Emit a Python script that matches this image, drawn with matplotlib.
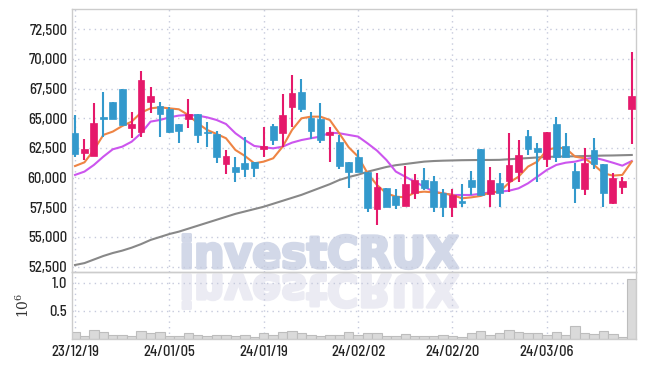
import numpy as np
import matplotlib
matplotlib.use("Agg")
import matplotlib.pyplot as plt
from matplotlib.textpath import TextPath
from matplotlib.patches import PathPatch
from matplotlib.font_manager import FontProperties
from matplotlib.transforms import Affine2D, IdentityTransform
from matplotlib.ticker import FuncFormatter

plt.rcParams['font.family'] = ['Barlow Semi Condensed', 'DejaVu Sans']
plt.rcParams['font.weight'] = 500
plt.rcParams['mathtext.fontset'] = 'dejavuserif'

# ---- data ----
dates = ['23/12/19', '24/01/05', '24/01/19', '24/02/02', '24/02/20', '24/03/06']
date_pos = [0, 10, 20, 30, 40, 50]

opens = [63740, 62110, 61850, 65060, 66380, 67440, 64210, 63880, 66400, 66040,
         65760, 64520, 64970, 65370, 63760, 63680, 61150, 60930, 61210, 61290,
         62440, 64350, 63790, 65980, 67220, 65000, 64940, 63620, 63010, 61290,
         61770, 60510, 57390, 59100, 58460, 57640, 58680, 59780, 59720, 58740,
         57560, 58030, 59780, 62420, 58600, 59550, 59750, 60510, 63510, 62470,
         61600, 64490, 62670, 60560, 59070, 62300, 61150, 57840, 59240, 65760]
highs = [65280, 63230, 66260, 67190, 66400, 67450, 65510, 68990, 67610, 66400,
         65980, 64520, 66600, 65370, 64720, 63960, 62330, 61770, 63460, 61300,
         64240, 64520, 67020, 68650, 68320, 65560, 66260, 64300, 63600, 61300,
         62330, 60510, 60370, 59100, 59020, 61010, 60280, 60790, 60140, 59020,
         59020, 59440, 60590, 62420, 60870, 60370, 63740, 63170, 64020, 62890,
         63850, 65080, 63740, 61210, 62470, 63320, 61150, 60370, 60080, 70620]
lows = [61770, 61490, 61800, 63460, 64950, 64400, 63320, 63460, 65420, 63460,
        63800, 62890, 64160, 62890, 62610, 61210, 60310, 59660, 60030, 60030,
        61770, 62750, 62610, 64300, 65560, 63230, 62950, 61290, 60730, 59100,
        60450, 57110, 55980, 57500, 57330, 57600, 58170, 59000, 57110, 56660,
        56660, 57500, 58540, 58500, 57500, 57560, 58820, 59660, 61910, 59660,
        60930, 61350, 61700, 57840, 58540, 60700, 57560, 57800, 58600, 62840]
closes = [61990, 62420, 64580, 64970, 64970, 64470, 64490, 68230, 66880, 65370,
          63880, 63960, 65370, 63620, 63720, 61770, 61850, 60510, 60700, 60790,
          62670, 63170, 65280, 67140, 65820, 63960, 63170, 63850, 61010, 60510,
          60510, 57470, 59190, 57560, 57670, 59470, 59780, 59100, 57500, 57560,
          58510, 57890, 59240, 58540, 59780, 58680, 61070, 61910, 62440, 62190,
          63820, 61710, 61770, 59160, 61210, 61150, 58740, 59940, 59720, 66850]

ma_short = [60980, 61290, 62330, 63600, 63880, 64350, 64720, 65480, 65840, 65930,
            65840, 65760, 65280, 64580, 64020, 63680, 63320, 62330, 61830, 61210,
            61350, 61630, 62610, 64020, 65000, 65140, 65140, 64860, 63740, 62560,
            61770, 60370, 59380, 58680, 58400, 58340, 58740, 58820, 58760, 58680,
            58540, 58260, 58340, 58460, 58760, 58820, 59580, 60080, 60930, 61350,
            62330, 62530, 62470, 61770, 61630, 61070, 60370, 60170, 60230, 61350]
ma_mid = [60230, 60510, 61070, 61770, 62390, 62610, 63030, 63740, 64720, 64860,
          65080, 65230, 65280, 65230, 65080, 64860, 64520, 63740, 63170, 62670,
          62560, 62470, 62610, 62950, 63170, 63320, 63460, 63790, 63740, 63600,
          63460, 62890, 62280, 61490, 60510, 60080, 59660, 59240, 58820, 58680,
          58540, 58540, 58540, 58650, 58760, 58820, 58900, 59100, 59520, 60080,
          60650, 61070, 61260, 61350, 61550, 61690, 61490, 61260, 61010, 61400]
ma_long = [52640, 52800, 53100, 53400, 53650, 53850, 54100, 54400, 54750, 55000,
           55250, 55450, 55700, 55950, 56200, 56450, 56700, 56950, 57150, 57350,
           57550, 57800, 58050, 58300, 58550, 58850, 59150, 59450, 59800, 60050,
           60250, 60500, 60700, 60900, 61050, 61150, 61250, 61350, 61400, 61430,
           61450, 61470, 61480, 61490, 61490, 61500, 61550, 61600, 61650, 61700,
           61750, 61770, 61790, 61800, 61820, 61840, 61860, 61870, 61890, 61910]

volume = [0.11, 0.04, 0.15, 0.12, 0.065, 0.06, 0.04, 0.13, 0.09, 0.12,
          0.04, 0.04, 0.09, 0.06, 0.04, 0.06, 0.06, 0.05, 0.06, 0.03,
          0.09, 0.065, 0.12, 0.13, 0.10, 0.065, 0.05, 0.065, 0.065, 0.12,
          0.065, 0.094, 0.094, 0.04, 0.04, 0.076, 0.04, 0.04, 0.053, 0.06,
          0.047, 0.035, 0.094, 0.13, 0.065, 0.094, 0.147, 0.118, 0.10, 0.10,
          0.07, 0.123, 0.065, 0.218, 0.10, 0.082, 0.13, 0.076, 0.03, 1.06]

UP = '#e5196b'
DOWN = '#3399cc'
GRID = '#c6cadc'
SPINE = '#cccccc'
TXT = '#222222'

W, H = 645, 366
fig = plt.figure(figsize=(W / 100, H / 100), dpi=100)
fig.patch.set_facecolor('white')

left, right = 72, 636
ax = fig.add_axes([left / W, (H - 272) / H, (right - left) / W, (272 - 9.3) / H])
axv = fig.add_axes([left / W, (H - 338.5) / H, (right - left) / W, (338.5 - 272) / H], sharex=ax)
for a in (ax, axv):
    a.set_facecolor('none')
    for s in a.spines.values():
        s.set_color(SPINE)
        s.set_linewidth(1)
    a.grid(True, color=GRID, linestyle=(0, (1, 3)), linewidth=1)
    a.tick_params(length=0, labelsize=10.5, colors=TXT)

# watermark + reflection (behind the axes), stroked to make it heavier
fp = FontProperties(family='DejaVu Sans', weight='bold')
tp = TextPath((0, 0), 'investCRUX', size=1, prop=fp)
bb = tp.get_extents()
sx = (458 - 183) / bb.width
sy = 33.5 / bb.y1
wm = Affine2D().translate(-bb.x0, 0).scale(sx, sy).translate(183, H - 268)
fig.add_artist(PathPatch(wm.transform_path(tp), transform=IdentityTransform(),
                         facecolor='#d2d8e8', edgecolor='#d2d8e8', lw=2.2,
                         joinstyle='round', zorder=-1))
rf = Affine2D().translate(-bb.x0, 0).scale(sx, -sy).translate(183, H - 275)
fig.add_artist(PathPatch(rf.transform_path(tp), transform=IdentityTransform(),
                         facecolor='#ebebf3', edgecolor='#ebebf3', lw=2.2,
                         joinstyle='round', zorder=-1))

x = np.arange(len(opens))
o = np.array(opens)
c = np.array(closes)
colors = [UP if cc >= oo else DOWN for oo, cc in zip(o, c)]
bottoms = np.minimum(o, c)
heights = np.maximum(np.abs(c - o), 120)

ax.plot(x, ma_long, color='#888888', lw=1.5, zorder=2)
ax.plot(x, ma_mid, color='#cc55ee', lw=1.5, zorder=2)
ax.plot(x, ma_short, color='#ee8444', lw=1.5, zorder=2)
ax.vlines(x, lows, highs, colors=colors, lw=1.5, zorder=3)
ax.bar(x, heights, bottom=bottoms, width=0.72, color=colors, edgecolor=colors, lw=0.5, zorder=4)

ax.set_ylim(52050, 74185)
ax.set_yticks(np.arange(52500, 72501, 2500))
ax.yaxis.set_major_formatter(FuncFormatter(lambda v, p: f'{int(v):,}'))
ax.set_xlim(-0.32, 59.45)
ax.set_xticks(date_pos)
ax.tick_params(axis='x', labelbottom=False)

axv.bar(x, volume, width=1.0, color='#dadada', edgecolor='#bdbdbd', lw=0.8, zorder=2)
axv.set_ylim(0, 1.19)
axv.set_yticks([0.5, 1.0])
axv.yaxis.set_major_formatter(FuncFormatter(lambda v, p: f'{v:.1f}'))
axv.set_xticks(date_pos)
axv.set_xticklabels(dates)
axv.tick_params(axis='x', pad=5)
axv.set_ylabel(r'$10^{6}$', fontsize=10, color='#333333')
axv.yaxis.set_label_coords(-0.071, 0.5)

fig.savefig('out.png', dpi=100, facecolor='white')
